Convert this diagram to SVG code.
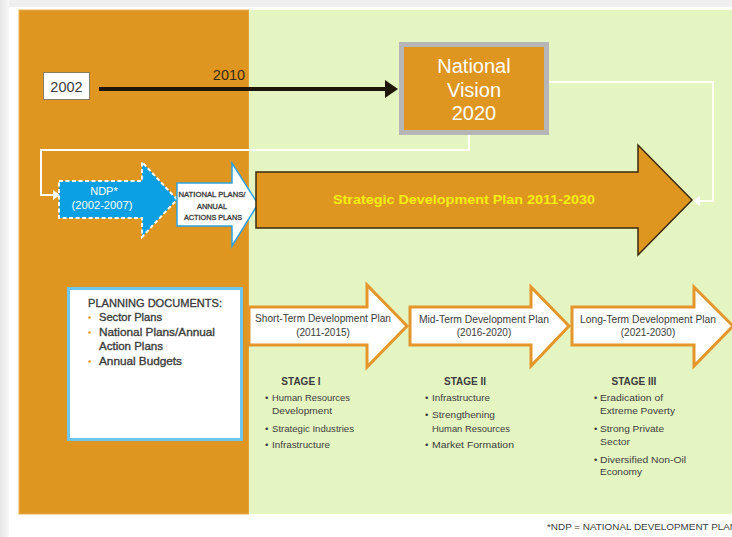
<svg xmlns="http://www.w3.org/2000/svg" width="732" height="537" viewBox="0 0 732 537">
<defs>
<style>
.t{font-family:"Liberation Sans",Arial,sans-serif;fill:#3c3c3c}
.w{fill:#ffffff}
.b{font-weight:bold}
.m{text-anchor:middle}
.sb{stroke:#3c3c3c;stroke-width:0.35}
.stg{fill:#ffffff;stroke:#e4962a;stroke-width:3;stroke-linejoin:miter}
.conn{fill:none;stroke:#ffffff;stroke-width:2}
.dot{fill:#e4962a}
</style>
<linearGradient id="lg" x1="0" x2="1" y1="0" y2="0">
<stop offset="0" stop-color="#e6e6e6"/>
<stop offset="1" stop-color="#f8f8f8"/>
</linearGradient>
</defs>
<rect x="0" y="0" width="732" height="537" fill="#ffffff"/>
<rect x="0" y="0" width="732" height="7" fill="#efefef"/>
<rect x="0" y="0" width="9" height="537" fill="url(#lg)"/>
<g id="panels">
<rect x="19" y="10" width="230" height="504" fill="#df9620" stroke="#e8ad55" stroke-width="1"/>
<rect x="249" y="10" width="483" height="504" fill="#e4f5c2"/>
</g>

<g id="connectors">
<line x1="99" y1="89" x2="388" y2="89" stroke="#1e1608" stroke-width="4"/>
<polygon points="385,80 398,89 385,98" fill="#1e1608"/>
<path class="conn" d="M469,135 V150 H41 V195 H54"/>
<polygon points="53,190 60,195 53,200" fill="#ffffff"/>
<path class="conn" d="M549,82 H713 V201 H699"/>
<polygon points="700,196 693,201 700,206" fill="#ffffff"/>
</g>

<g id="year2002">
<rect x="43.5" y="72.5" width="46" height="27" fill="#ffffff" stroke="#8a7a60" stroke-width="1"/>
<text class="t" x="66.5" y="92" font-size="14.5" text-anchor="middle" fill="#333">2002</text>
</g>
<g id="year2010">
<text class="t" x="229" y="80" font-size="14.5" text-anchor="middle" style="fill:#3a2a10">2010</text>
</g>

<g id="vision">
<rect x="401.5" y="44.5" width="145" height="88" fill="#df9620" stroke="#b6b6b6" stroke-width="5"/>
<text class="t w m" x="474" y="73" font-size="20" style="fill:#fff">National</text>
<text class="t w m" x="474" y="97" font-size="20" style="fill:#fff">Vision</text>
<text class="t w m" x="474" y="120" font-size="20" style="fill:#fff">2020</text>
</g>

<g id="ndp">
<polygon points="59,181 142,181 142,162 177,199.5 142,237 142,218 59,218" fill="#0b9fe3" stroke="#ffffff" stroke-width="2" stroke-dasharray="4 2.5"/>
<text class="t m" x="104" y="195" font-size="11" style="fill:#fff">NDP*</text>
<text class="t m" x="102" y="209" font-size="11" style="fill:#fff" textLength="61" lengthAdjust="spacingAndGlyphs">(2002-2007)</text>
</g>

<g id="national-plans">
<polygon points="177,183 232,183 232,163 258,204 232,246 232,226 177,226" fill="#ffffff" stroke="#2ea2e2" stroke-width="1.5"/>
<text class="t m sb" x="212" y="197" font-size="8" textLength="67" lengthAdjust="spacingAndGlyphs">NATIONAL PLANS/</text>
<text class="t m sb" x="212" y="208.5" font-size="8" textLength="30" lengthAdjust="spacingAndGlyphs">ANNUAL</text>
<text class="t m sb" x="213" y="220" font-size="8" textLength="58" lengthAdjust="spacingAndGlyphs">ACTIONS PLANS</text>
</g>

<g id="strategic">
<polygon points="256,172 638,172 638,145 692,200 638,255 638,228 256,228" fill="#df9620" stroke="#3b2a0e" stroke-width="1.5"/>
<text class="t b m" x="464" y="204" font-size="13.5" style="fill:#f4ee10" textLength="262" lengthAdjust="spacingAndGlyphs">Strategic Development Plan 2011-2030</text>
</g>

<g id="planning-docs">
<rect x="68.5" y="288.5" width="173" height="151" fill="#ffffff" stroke="#6cc6f0" stroke-width="3"/>
<text class="t sb" x="88" y="307" font-size="11.5" textLength="134" lengthAdjust="spacingAndGlyphs">PLANNING DOCUMENTS:</text>
<circle class="dot" cx="89.5" cy="317.5" r="1.3"/>
<text class="t sb" x="99" y="321" font-size="11.5" textLength="63" lengthAdjust="spacingAndGlyphs">Sector Plans</text>
<circle class="dot" cx="89.5" cy="332.5" r="1.3"/>
<text class="t sb" x="99" y="336" font-size="11.5" textLength="116" lengthAdjust="spacingAndGlyphs">National Plans/Annual</text>
<text class="t sb" x="99" y="350" font-size="11.5" textLength="64" lengthAdjust="spacingAndGlyphs">Action Plans</text>
<circle class="dot" cx="89.5" cy="361.5" r="1.3"/>
<text class="t sb" x="99" y="365" font-size="11.5" textLength="83" lengthAdjust="spacingAndGlyphs">Annual Budgets</text>
</g>

<g id="short-term">
<polygon class="stg" points="249,307 367,307 367,285 407,326 367,367 367,345 249,345"/>
<text class="t m" x="323" y="322" font-size="10" textLength="136" lengthAdjust="spacingAndGlyphs">Short-Term Development Plan</text>
<text class="t m" x="323" y="336" font-size="10">(2011-2015)</text>
</g>
<g id="mid-term">
<polygon class="stg" points="410,307 531,307 531,287 569,326 531,366 531,345 410,345"/>
<text class="t m" x="484" y="323" font-size="10" textLength="130" lengthAdjust="spacingAndGlyphs">Mid-Term Development Plan</text>
<text class="t m" x="484" y="336" font-size="10">(2016-2020)</text>
</g>
<g id="long-term">
<polygon class="stg" points="572,307 694,307 694,287 733,326 694,366 694,345 572,345"/>
<text class="t m" x="648" y="323" font-size="10" textLength="136" lengthAdjust="spacingAndGlyphs">Long-Term Development Plan</text>
<text class="t m" x="648" y="336" font-size="10">(2021-2030)</text>
</g>

<g id="stage1">
<text class="t b m" x="301" y="385" font-size="10">STAGE I</text>
<text class="t" x="265" y="401" font-size="9.5">•</text>
<text class="t" x="272" y="401" font-size="9.5" textLength="78" lengthAdjust="spacingAndGlyphs">Human Resources</text>
<text class="t" x="272" y="414" font-size="9.5" textLength="60" lengthAdjust="spacingAndGlyphs">Development</text>
<text class="t" x="265" y="432" font-size="9.5">•</text>
<text class="t" x="272" y="432" font-size="9.5" textLength="82" lengthAdjust="spacingAndGlyphs">Strategic Industries</text>
<text class="t" x="265" y="448" font-size="9.5">•</text>
<text class="t" x="272" y="448" font-size="9.5" textLength="58" lengthAdjust="spacingAndGlyphs">Infrastructure</text>
</g>

<g id="stage2">
<text class="t b m" x="465" y="385" font-size="10">STAGE II</text>
<text class="t" x="425" y="401" font-size="9.5">•</text>
<text class="t" x="432" y="401" font-size="9.5" textLength="58" lengthAdjust="spacingAndGlyphs">Infrastructure</text>
<text class="t" x="425" y="418" font-size="9.5">•</text>
<text class="t" x="432" y="418" font-size="9.5" textLength="63" lengthAdjust="spacingAndGlyphs">Strengthening</text>
<text class="t" x="432" y="432" font-size="9.5" textLength="78" lengthAdjust="spacingAndGlyphs">Human Resources</text>
<text class="t" x="425" y="448" font-size="9.5">•</text>
<text class="t" x="432" y="448" font-size="9.5" textLength="82" lengthAdjust="spacingAndGlyphs">Market Formation</text>
</g>

<g id="stage3">
<text class="t b m" x="634" y="385" font-size="10">STAGE III</text>
<text class="t" x="594" y="401" font-size="9.5">•</text>
<text class="t" x="600" y="401" font-size="9.5" textLength="63" lengthAdjust="spacingAndGlyphs">Eradication of</text>
<text class="t" x="600" y="414" font-size="9.5" textLength="75" lengthAdjust="spacingAndGlyphs">Extreme Poverty</text>
<text class="t" x="594" y="432" font-size="9.5">•</text>
<text class="t" x="600" y="432" font-size="9.5" textLength="64" lengthAdjust="spacingAndGlyphs">Strong Private</text>
<text class="t" x="600" y="445" font-size="9.5" textLength="30" lengthAdjust="spacingAndGlyphs">Sector</text>
<text class="t" x="594" y="463" font-size="9.5">•</text>
<text class="t" x="600" y="463" font-size="9.5" textLength="86" lengthAdjust="spacingAndGlyphs">Diversified Non-Oil</text>
<text class="t" x="600" y="475" font-size="9.5" textLength="42" lengthAdjust="spacingAndGlyphs">Economy</text>
</g>

<g id="footnote">
<text class="t" x="547" y="530" font-size="8.5" textLength="190" lengthAdjust="spacingAndGlyphs">*NDP = NATIONAL DEVELOPMENT PLAN</text>
</g>
</svg>
